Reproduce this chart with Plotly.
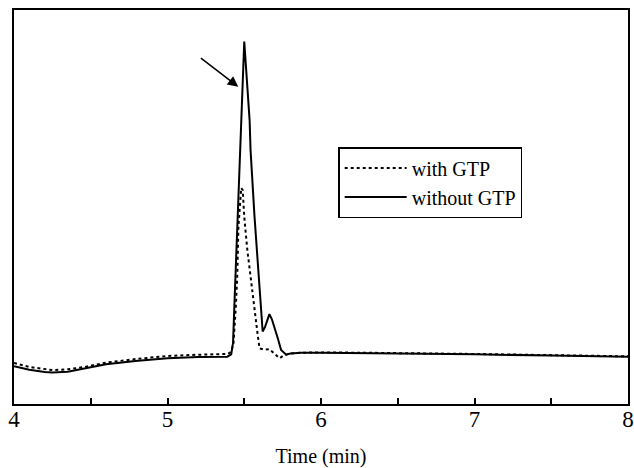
import plotly.graph_objects as go

# Data (arbitrary absorbance units)
x_without = [4.00, 4.10, 4.20, 4.25, 4.35, 4.46, 4.60, 4.79, 5.00, 5.20, 5.39, 5.415, 5.427, 5.437,
             5.455, 5.476, 5.485, 5.50, 5.535, 5.541, 5.567, 5.589, 5.61, 5.62, 5.635, 5.65, 5.664,
             5.68, 5.697, 5.72, 5.74, 5.773, 5.80, 5.87, 6.0, 6.3, 6.6, 7.0, 7.5, 8.0]
y_without = [9.6, 8.7, 8.1, 8.0, 8.2, 9.1, 10.1, 10.9, 11.6, 11.9, 12.0, 12.6, 15.5, 26.4,
             45.0, 66.0, 76.0, 92.0, 72.0, 64.5, 47.5, 34.8, 22.2, 18.4, 19.5, 21.5, 22.8,
             21.5, 19.6, 16.5, 13.7, 12.5, 12.8, 13.0, 13.0, 12.9, 12.8, 12.6, 12.3, 12.0]

x_with = [4.00, 4.10, 4.25, 4.35, 4.46, 4.60, 4.79, 5.00, 5.20, 5.39, 5.415, 5.43, 5.445, 5.455,
          5.462, 5.472, 5.48, 5.49, 5.50, 5.52, 5.545, 5.567, 5.589, 5.60, 5.63, 5.664, 5.70,
          5.73, 5.76, 5.80, 5.87, 6.0, 6.3, 6.6, 7.0, 7.5, 8.0]
y_with = [10.4, 9.4, 8.6, 8.8, 9.4, 10.5, 11.4, 12.2, 12.5, 12.7, 13.2, 15.5, 24.6, 33.0,
          45.0, 52.0, 54.8, 54.3, 47.5, 39.1, 30.6, 24.7, 17.1, 14.1, 13.8, 13.9, 12.6,
          11.6, 12.4, 12.8, 13.0, 13.1, 13.0, 12.9, 12.7, 12.4, 12.1]

x_label_vals = [4, 5, 6, 7, 8]
x_label_text = ["4", "5", "6", "7", "8"]
x_tick_marks = [4.5, 5, 5.5, 6, 6.5, 7, 7.5]

# Arrow pointing at the main peak (tail -> tip)
arrow_tail = (5.208, 88.1)
arrow_tip = (5.461, 80.5)

FONT = "Liberation Serif"
X_RANGE = [4, 8]

fig = go.Figure()
fig.add_trace(go.Scatter(x=x_with, y=y_with, mode="lines", name="with GTP", xaxis="x2",
                         line=dict(color="black", width=2, dash="dot")))
fig.add_trace(go.Scatter(x=x_without, y=y_without, mode="lines", name="without GTP",
                         line=dict(color="black", width=2)))

fig.add_annotation(x=arrow_tip[0], y=arrow_tip[1], ax=arrow_tail[0], ay=arrow_tail[1],
                   xref="x", yref="y", axref="x", ayref="y", text="", showarrow=True,
                   arrowhead=2, arrowsize=1.4, arrowwidth=1.5, arrowcolor="black")

fig.update_layout(
    width=634, height=468,
    margin=dict(l=14, r=6, t=10, b=64, autoexpand=False),
    paper_bgcolor="white", plot_bgcolor="white",
    font=dict(family=FONT, color="black"),
    showlegend=True,
    legend=dict(x=0.528, y=0.652, xanchor="left", yanchor="top",
                bordercolor="black", borderwidth=1.5, bgcolor="white",
                font=dict(family=FONT, size=20, color="black"),
                tracegroupgap=0, itemwidth=62),
    # tick marks + frame
    xaxis=dict(range=X_RANGE, tickmode="array", tickvals=x_tick_marks, showticklabels=False,
               ticks="inside", ticklen=6, tickwidth=1.5, tickcolor="black",
               showline=True, linecolor="black", linewidth=2, mirror=True,
               showgrid=False, zeroline=False, automargin=False),
    # tick labels + title
    xaxis2=dict(range=X_RANGE, overlaying="x", side="bottom", anchor="y",
                tickmode="array", tickvals=x_label_vals, ticktext=x_label_text,
                ticks="", showline=False, showgrid=False, zeroline=False, automargin=False,
                ticklabelstandoff=-1, ticklabeloverflow="allow",
                tickfont=dict(family=FONT, size=23, color="black"),
                title=dict(text="Time (min)", font=dict(family=FONT, size=20, color="black"), standoff=17)),
    yaxis=dict(range=[0, 100], showticklabels=False, ticks="",
               showline=True, linecolor="black", linewidth=2, mirror=True,
               showgrid=False, zeroline=False, automargin=False),
)

fig.write_html("out.html")
